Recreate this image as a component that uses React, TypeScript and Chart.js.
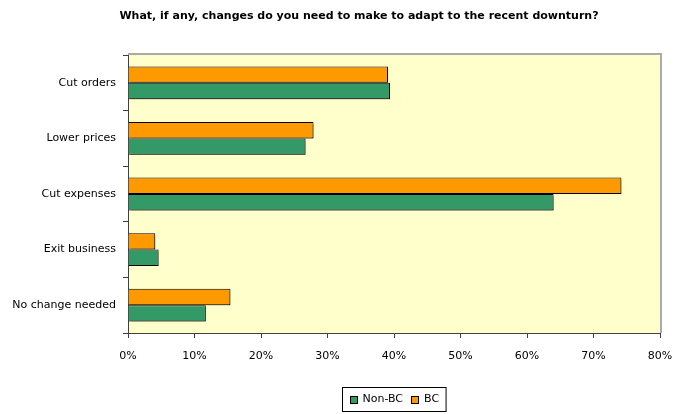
import React, { useEffect, useRef } from "react";
import { Chart, registerables } from "chart.js";

Chart.register(...registerables);

const titleText = "What, if any, changes do you need to make to adapt to the recent downturn?";
const categories = ["Cut orders", "Lower prices", "Cut expenses", "Exit business", "No change needed"];
const bcValues = [39.1, 27.9, 74.2, 4.1, 15.4];
const nonBcValues = [39.4, 26.7, 64.0, 4.6, 11.7];
const seriesNames = ["Non-BC", "BC"];
const seriesColors = ["#339966", "#FF9900"];
const xMax = 80;
const xStep = 10;

const FONT = "DejaVu Sans";

const decorPlugin = {
  id: "decor",
  beforeDraw(chart: any) {
    const { ctx, chartArea } = chart;
    ctx.save();
    ctx.fillStyle = "#FFFFCC";
    ctx.fillRect(chartArea.left, chartArea.top, chartArea.right - chartArea.left, chartArea.bottom - chartArea.top);
    ctx.restore();
  },
  beforeDatasetsDraw(chart: any) {
    const ctx = chart.ctx;
    ctx.save();
    ctx.shadowColor = "rgba(0,0,0,0.3)";
    ctx.shadowOffsetX = 2;
    ctx.shadowOffsetY = 2;
    ctx.shadowBlur = 0;
  },
  afterDatasetsDraw(chart: any) {
    chart.ctx.restore();
  },
  afterDraw(chart: any) {
    const { ctx, chartArea } = chart;
    ctx.save();
    // top & right plot border
    ctx.strokeStyle = "#AAAAAA";
    ctx.lineWidth = 2;
    ctx.beginPath();
    ctx.moveTo(chartArea.left, chartArea.top - 1);
    ctx.lineTo(chartArea.right + 1, chartArea.top - 1);
    ctx.lineTo(chartArea.right + 1, chartArea.bottom);
    ctx.stroke();

    // title
    ctx.fillStyle = "#000";
    ctx.font = `bold 11px "${FONT}"`;
    ctx.textAlign = "center";
    ctx.textBaseline = "middle";
    ctx.fillText(titleText, 359, 16);

    // legend
    ctx.font = `11px "${FONT}"`;
    const box = 8;
    const gapBoxText = 5;
    const gapItems = 8;
    const padX = 7;
    const widths = seriesNames.map((n) => ctx.measureText(n).width);
    let total = padX * 2;
    widths.forEach((w, i) => {
      total += box + gapBoxText + w + (i < widths.length - 1 ? gapItems : 0);
    });
    const cx = (chartArea.left + chartArea.right) / 2;
    const left = Math.round(cx - total / 2) + 0.5;
    const top = 387.5;
    const h = 24;
    ctx.strokeStyle = "#000";
    ctx.lineWidth = 1;
    ctx.strokeRect(left, top, total, h);
    let x = left + padX;
    const cy = top + h / 2;
    ctx.textAlign = "left";
    seriesNames.forEach((n, i) => {
      ctx.fillStyle = seriesColors[i];
      ctx.fillRect(Math.round(x), Math.round(cy - box / 2), box, box);
      ctx.strokeStyle = "#000";
      ctx.strokeRect(Math.round(x) + 0.5, Math.round(cy - box / 2) + 0.5, box - 1, box - 1);
      x += box + gapBoxText;
      ctx.fillStyle = "#000";
      ctx.fillText(n, x, cy);
      x += widths[i] + gapItems;
    });
    ctx.restore();
  },
};

export default function App() {
  const ref = useRef<HTMLCanvasElement>(null);
  useEffect(() => {
    if (!ref.current) return;
    const chart = new Chart(ref.current, {
      type: "bar",
      data: {
        labels: categories,
        datasets: [
          {
            label: seriesNames[1],
            data: bcValues,
            backgroundColor: seriesColors[1],
            borderColor: "#000",
            borderWidth: 1,
            categoryPercentage: 0.59,
            barPercentage: 1,
          },
          {
            label: seriesNames[0],
            data: nonBcValues,
            backgroundColor: seriesColors[0],
            borderColor: "#000",
            borderWidth: 1,
            categoryPercentage: 0.59,
            barPercentage: 1,
          },
        ],
      },
      options: {
        indexAxis: "y",
        animation: false,
        responsive: false,
        layout: { padding: { top: 55, right: 21, bottom: 31, left: 0 } },
        plugins: {
          legend: { display: false },
          title: { display: false },
          tooltip: { enabled: false },
        },
        scales: {
          x: {
            min: 0,
            max: xMax,
            afterFit: (s: any) => {
              s.height = 50;
              s.paddingLeft = 0;
              s.paddingRight = 0;
            },
            ticks: {
              stepSize: xStep,
              color: "#000",
              padding: 12,
              maxRotation: 0,
              font: { family: FONT, size: 11 },
              callback: (v: any) => `${v}%`,
            },
            grid: {
              drawOnChartArea: false,
              drawTicks: true,
              tickLength: 5,
              color: "#404040",
            },
            border: { color: "#404040", width: 1 },
          },
          y: {
            afterFit: (s: any) => {
              s.width = 128;
              s.paddingTop = 0;
              s.paddingBottom = 0;
            },
            ticks: {
              color: "#000",
              padding: 7,
              font: { family: FONT, size: 11 },
            },
            grid: {
              drawOnChartArea: false,
              drawTicks: true,
              tickLength: 5,
              color: "#404040",
              offset: true,
            },
            border: { color: "#404040", width: 1 },
          },
        },
      },
      plugins: [decorPlugin],
    });
    return () => chart.destroy();
  }, []);
  return (
    <div style={{ position: "fixed", left: 0, top: 0, width: 681, height: 414, background: "#fff" }}>
      <canvas ref={ref} width={681} height={414} style={{ display: "block" }} />
    </div>
  );
}
